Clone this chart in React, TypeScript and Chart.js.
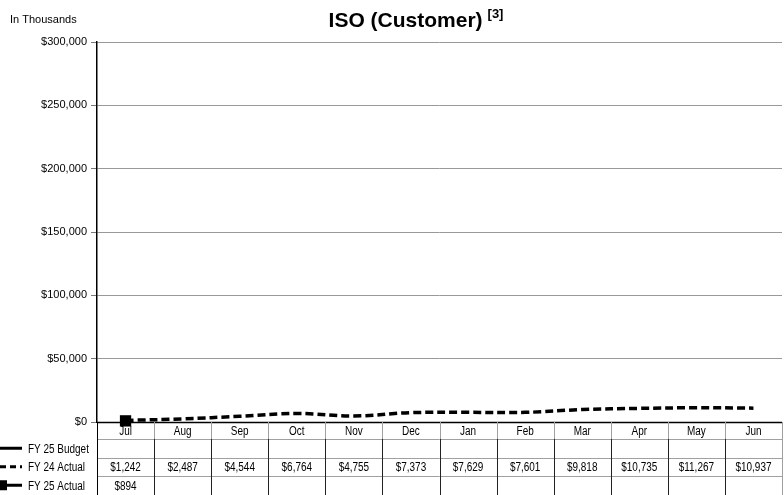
import React, { useEffect, useRef } from "react";
import { Chart, registerables } from "chart.js";

Chart.register(...registerables);

const months = ["Jul", "Aug", "Sep", "Oct", "Nov", "Dec", "Jan", "Feb", "Mar", "Apr", "May", "Jun"];
const fy25Budget: (number | null)[] = [null, null, null, null, null, null, null, null, null, null, null, null];
const fy24Actual: (number | null)[] = [1242, 2487, 4544, 6764, 4755, 7373, 7629, 7601, 9818, 10735, 11267, 10937];
const fy25Actual: (number | null)[] = [894, null, null, null, null, null, null, null, null, null, null, null];
const seriesNames = ["FY 25 Budget", "FY 24 Actual", "FY 25 Actual"];
const yMin = 0;
const yMax = 300000;
const yStep = 50000;
const titleText = "ISO (Customer)";
const titleSup = "[3]";
const unitLabel = "In Thousands";

const fmt = (v: number) => "$" + Math.round(v).toLocaleString("en-US");
const SANS = '"Liberation Sans", Arial, sans-serif';
const NARROW_SCALE = 0.83;

function narrowText(ctx: CanvasRenderingContext2D, text: string, x: number, y: number, align: CanvasTextAlign) {
  ctx.save();
  ctx.translate(x, y);
  ctx.scale(NARROW_SCALE, 1);
  ctx.textAlign = align;
  ctx.textBaseline = "middle";
  ctx.font = "12px " + SANS;
  ctx.fillStyle = "#000";
  ctx.fillText(text, 0, 0);
  ctx.restore();
}

const tablePlugin = {
  id: "tablePlugin",
  afterDraw(chart: any) {
    const ctx = chart.ctx as CanvasRenderingContext2D;
    const { left, right, bottom } = chart.chartArea;
    const xs = chart.scales.x;
    const seriesData = [fy25Budget, fy24Actual, fy25Actual];
    const headerH = 17;
    const rowH = 18.5;
    const half = (xs.getPixelForValue(1) - xs.getPixelForValue(0)) / 2;
    ctx.save();

    // Title
    ctx.fillStyle = "#000";
    ctx.textBaseline = "alphabetic";
    ctx.font = "bold 21px " + SANS;
    const w1 = ctx.measureText(titleText).width;
    ctx.font = "bold 13px " + SANS;
    const w2 = ctx.measureText(titleSup).width;
    const center = 416;
    const gap = 5;
    const start = center - (w1 + gap + w2) / 2;
    ctx.textAlign = "left";
    ctx.font = "bold 21px " + SANS;
    ctx.fillText(titleText, start, 27);
    ctx.font = "bold 13px " + SANS;
    ctx.fillText(titleSup, start + w1 + gap, 18);

    // Unit label
    ctx.textBaseline = "middle";
    ctx.font = "11px " + SANS;
    ctx.fillText(unitLabel, 10, 20);

    // horizontal lines of table
    ctx.strokeStyle = "#a0a0a0";
    ctx.lineWidth = 1;
    for (let r = 0; r < 3; r++) {
      const y = Math.round(bottom + headerH + r * rowH) + 0.5;
      ctx.beginPath();
      ctx.moveTo(left, y);
      ctx.lineTo(right, y);
      ctx.stroke();
    }

    // vertical lines
    for (let i = 0; i < months.length; i++) {
      const bx = Math.round(xs.getPixelForValue(i) + half) + 0.5;
      const last = i === months.length - 1;
      ctx.strokeStyle = "#a0a0a0";
      ctx.beginPath();
      ctx.moveTo(bx, bottom);
      ctx.lineTo(bx, bottom + headerH);
      ctx.stroke();
      ctx.strokeStyle = last ? "#a0a0a0" : "#222";
      ctx.beginPath();
      ctx.moveTo(bx, bottom + headerH);
      ctx.lineTo(bx, chart.height);
      ctx.stroke();
    }
    // left border
    ctx.strokeStyle = "#000";
    ctx.beginPath();
    ctx.moveTo(Math.round(left) + 0.5, bottom);
    ctx.lineTo(Math.round(left) + 0.5, chart.height);
    ctx.stroke();

    // header labels
    months.forEach((m, i) => {
      narrowText(ctx, m, xs.getPixelForValue(i), bottom + headerH / 2 + 1, "center");
    });

    // rows
    seriesNames.forEach((name, r) => {
      const cy = bottom + headerH + r * rowH + rowH / 2;
      ctx.strokeStyle = "#000";
      ctx.lineWidth = 3;
      ctx.setLineDash(r === 1 ? [6, 4] : []);
      ctx.beginPath();
      ctx.moveTo(0, cy);
      ctx.lineTo(22, cy);
      ctx.stroke();
      ctx.setLineDash([]);
      if (r === 2) {
        ctx.fillStyle = "#000";
        ctx.fillRect(-3, cy - 5, 10, 10);
      }
      narrowText(ctx, name, 28, cy + 1, "left");
      seriesData[r].forEach((v, i) => {
        if (v === null || v === undefined) return;
        narrowText(ctx, fmt(v), xs.getPixelForValue(i), cy + 1, "center");
      });
    });

    ctx.restore();
  },
};

const axisLinePlugin = {
  id: "axisLinePlugin",
  beforeDatasetsDraw(chart: any) {
    const ctx = chart.ctx as CanvasRenderingContext2D;
    const { left, right, bottom } = chart.chartArea;
    ctx.save();
    ctx.strokeStyle = "#000";
    ctx.lineWidth = 1.5;
    ctx.beginPath();
    ctx.moveTo(left, Math.round(bottom) + 0.5);
    ctx.lineTo(right, Math.round(bottom) + 0.5);
    ctx.stroke();
    ctx.restore();
  },
};

export default function App() {
  const ref = useRef<HTMLCanvasElement | null>(null);
  useEffect(() => {
    if (!ref.current) return;
    const chart = new Chart(ref.current, {
      type: "line",
      data: {
        labels: months,
        datasets: [
          {
            label: seriesNames[0],
            data: fy25Budget,
            borderColor: "#000",
            backgroundColor: "#000",
            borderWidth: 3,
            pointRadius: 0,
          },
          {
            label: seriesNames[1],
            data: fy24Actual,
            borderColor: "#000",
            backgroundColor: "#000",
            borderWidth: 3.5,
            borderDash: [8, 4],
            pointRadius: 0,
            tension: 0.4,
          },
          {
            label: seriesNames[2],
            data: fy25Actual,
            borderColor: "#000",
            backgroundColor: "#000",
            borderWidth: 3,
            pointStyle: "rect",
            pointRadius: 8,
            pointBorderWidth: 0,
            clip: false,
          },
        ],
      },
      options: {
        responsive: false,
        animation: false,
        layout: { autoPadding: false, padding: { top: 42, bottom: 73, left: 0, right: 2 } },
        plugins: {
          legend: { display: false },
          title: { display: false },
          tooltip: { enabled: false },
        },
        scales: {
          x: {
            display: false,
            offset: true,
          },
          y: {
            min: yMin,
            max: yMax,
            afterFit: (s: any) => {
              s.width = 97;
            },
            ticks: {
              stepSize: yStep,
              color: "#000",
              padding: 4,
              font: { family: SANS, size: 11 },
              callback: (v: any) => fmt(Number(v)),
            },
            grid: {
              color: "#999",
              lineWidth: 1,
              tickLength: 6,
              tickColor: "#777",
            },
            border: { display: true, color: "#000", width: 1.5 },
          },
        },
      },
      plugins: [axisLinePlugin, tablePlugin],
    });
    return () => chart.destroy();
  }, []);
  return (
    <div style={{ position: "fixed", left: 0, top: 0, width: 784, height: 495, background: "#fff" }}>
      <canvas ref={ref} width={784} height={495} style={{ display: "block" }} />
    </div>
  );
}
